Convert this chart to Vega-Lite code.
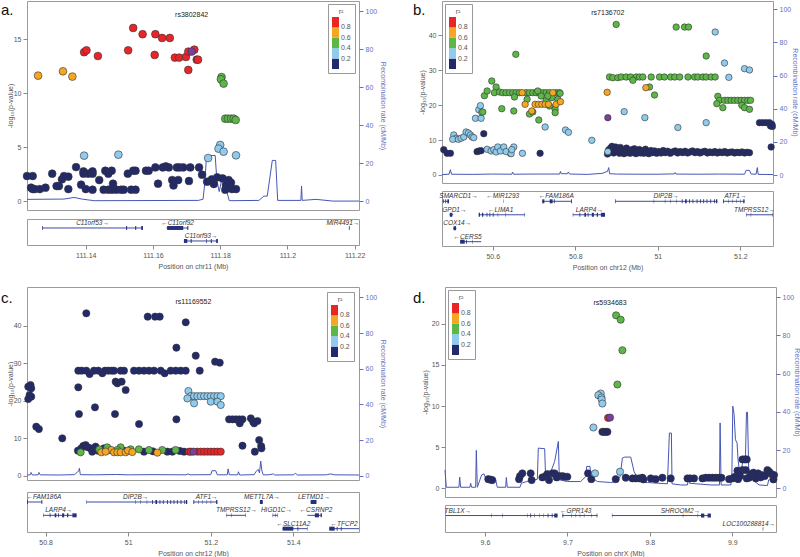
{
"$schema":"https://vega.github.io/schema/vega-lite/v6.json",
"padding":0,
"spacing":15,
"config":{
 "font":"Liberation Sans",
 "view":{"stroke":"#9a9a9a","strokeWidth":1},
 "axis":{"domain":false,"grid":false,"tickColor":"#8a8a8a","tickSize":4,"labelFontSize":7,"labelColor":"#555555","labelPadding":2,"titleFontSize":7,"titleFontWeight":"normal","titleColor":"#555555","labelFlush":false,"labelOverlap":false,"labelBound":false,"titlePadding":4},
 "legend":{"type":"gradient","direction":"vertical","gradientLength":52,"gradientThickness":7,"padding":4,"strokeColor":"#999999","fillColor":"white","labelFontSize":7,"labelColor":"#555555","titleFontSize":7,"titleFontWeight":"normal","titleColor":"#555555","titleAnchor":"middle","titlePadding":2,"offset":3,"labelOverlap":false}
},
"datasets":{
 "sa":[
{"p":111.1225,"y":2.32,"r":0.1},{"p":111.1242,"y":2.32,"r":0.1},{"p":111.1237,"y":1.24,"r":0.1},{"p":111.1242,"y":1.11,"r":0.1},{"p":111.1248,"y":1.11,"r":0.1},{"p":111.1263,"y":1.11,"r":0.1},{"p":111.128,"y":1.24,"r":0.1},{"p":111.13,"y":2.54,"r":0.1},{"p":111.1313,"y":1.39,"r":0.1},{"p":111.132,"y":1.39,"r":0.1},{"p":111.1329,"y":2.01,"r":0.1},{"p":111.1335,"y":2.32,"r":0.1},{"p":111.1348,"y":2.26,"r":0.1},{"p":111.1348,"y":1.11,"r":0.1},{"p":111.1371,"y":3.15,"r":0.1},{"p":111.1386,"y":1.52,"r":0.1},{"p":111.1393,"y":2.75,"r":0.1},{"p":111.1393,"y":2.54,"r":0.1},{"p":111.14,"y":1.11,"r":0.1},{"p":111.1407,"y":2.54,"r":0.1},{"p":111.142,"y":2.54,"r":0.1},{"p":111.142,"y":2.75,"r":0.1},{"p":111.142,"y":1.05,"r":0.1},{"p":111.144,"y":1.95,"r":0.1},{"p":111.1453,"y":1.05,"r":0.1},{"p":111.1458,"y":2.81,"r":0.1},{"p":111.1467,"y":2.54,"r":0.1},{"p":111.1477,"y":2.81,"r":0.1},{"p":111.1467,"y":1.05,"r":0.1},{"p":111.1481,"y":1.61,"r":0.1},{"p":111.1478,"y":1.05,"r":0.1},{"p":111.1491,"y":1.05,"r":0.1},{"p":111.1505,"y":1.05,"r":0.1},{"p":111.1513,"y":1.05,"r":0.1},{"p":111.1525,"y":2.54,"r":0.1},{"p":111.1535,"y":1.05,"r":0.1},{"p":111.1541,"y":2.81,"r":0.1},{"p":111.1548,"y":2.81,"r":0.1},{"p":111.1548,"y":1.05,"r":0.1},{"p":111.1579,"y":2.81,"r":0.1},{"p":111.1587,"y":2.81,"r":0.1},{"p":111.1607,"y":3.12,"r":0.1},{"p":111.1615,"y":1.61,"r":0.1},{"p":111.1629,"y":3.12,"r":0.1},{"p":111.1638,"y":3.22,"r":0.1},{"p":111.1647,"y":3.12,"r":0.1},{"p":111.1657,"y":1.95,"r":0.1},{"p":111.1661,"y":1.45,"r":0.1},{"p":111.1671,"y":3.12,"r":0.1},{"p":111.1675,"y":1.95,"r":0.1},{"p":111.1679,"y":3.12,"r":0.1},{"p":111.169,"y":3.12,"r":0.1},{"p":111.1711,"y":3.12,"r":0.1},{"p":111.1707,"y":1.86,"r":0.1},{"p":111.1737,"y":3.12,"r":0.1},{"p":111.1746,"y":2.44,"r":0.1},{"p":111.1761,"y":1.79,"r":0.1},{"p":111.1775,"y":2.01,"r":0.1},{"p":111.1781,"y":1.58,"r":0.1},{"p":111.1791,"y":2.2,"r":0.1},{"p":111.1807,"y":2.1,"r":0.1},{"p":111.1817,"y":1.48,"r":0.1},{"p":111.1825,"y":1.95,"r":0.1},{"p":111.1832,"y":1.7,"r":0.1},{"p":111.1835,"y":1.11,"r":0.1},{"p":111.1815,"y":1.05,"r":0.1},{"p":111.1847,"y":1.11,"r":0.1},{"p":111.1825,"y":1.48,"r":0.1},
{"p":111.1395,"y":4.21,"r":0.3},{"p":111.1497,"y":4.3,"r":0.3},{"p":111.1764,"y":3.99,"r":0.3},{"p":111.18,"y":5.2,"r":0.3},{"p":111.1795,"y":4.86,"r":0.3},{"p":111.181,"y":4.58,"r":0.3},{"p":111.1847,"y":4.24,"r":0.3},
{"p":111.1804,"y":11.5,"r":0.5},{"p":111.1802,"y":11.29,"r":0.5},{"p":111.181,"y":10.89,"r":0.5},{"p":111.1815,"y":7.64,"r":0.5},{"p":111.1823,"y":7.64,"r":0.5},{"p":111.1832,"y":7.64,"r":0.5},{"p":111.184,"y":7.64,"r":0.5},{"p":111.1846,"y":7.52,"r":0.5},
{"p":111.1258,"y":11.63,"r":0.7},{"p":111.1332,"y":12.03,"r":0.7},{"p":111.136,"y":11.54,"r":0.7},
{"p":111.1395,"y":13.8,"r":0.9},{"p":111.1402,"y":13.98,"r":0.9},{"p":111.1436,"y":13.45,"r":0.9},{"p":111.1526,"y":13.98,"r":0.9},{"p":111.1541,"y":16.05,"r":0.9},{"p":111.1569,"y":15.47,"r":0.9},{"p":111.1607,"y":15.47,"r":0.9},{"p":111.1605,"y":13.55,"r":0.9},{"p":111.1627,"y":15.12,"r":0.9},{"p":111.165,"y":15.12,"r":0.9},{"p":111.1665,"y":13.3,"r":0.9},{"p":111.1678,"y":13.3,"r":0.9},{"p":111.1698,"y":13.36,"r":0.9},{"p":111.1705,"y":13.86,"r":0.9},{"p":111.1705,"y":12.16,"r":0.9},{"p":111.1723,"y":14.04,"r":0.9},{"p":111.173,"y":13.11,"r":0.9},{"p":111.1734,"y":13.11,"r":0.9}
 ],
 "la":[{"p":111.1715,"y":13.86,"id":"rs3802842"}],
 "ra":[{"p":111.1225,"c":0.9},{"p":111.1335,"c":1.05},{"p":111.1365,"c":1.9},{"p":111.139,"c":1.0},{"p":111.1425,"c":0.2},{"p":111.1735,"c":0.35},{"p":111.1749,"c":1.0},{"p":111.1755,"c":11},{"p":111.1759,"c":24},{"p":111.1785,"c":24},{"p":111.179,"c":11},{"p":111.1797,"c":5},{"p":111.1807,"c":13.3},{"p":111.1815,"c":13.3},{"p":111.1821,"c":4},{"p":111.1827,"c":0.2},{"p":111.1915,"c":0.35},{"p":111.193,"c":2.6},{"p":111.194,"c":2.6},{"p":111.1955,"c":21.4},{"p":111.1965,"c":21.4},{"p":111.1971,"c":0.35},{"p":111.204,"c":0.35},{"p":111.2042,"c":7.9},{"p":111.2044,"c":0.35},{"p":111.2085,"c":0.9},{"p":111.2135,"c":0},{"p":111.2213,"c":0}],
 "ga":[{"g":"C11orf53→","s":111.127,"e":111.157,"row":1,"lx":111.142},{"g":"←C11orf92","s":111.164,"e":111.1705,"row":1,"lx":111.1673},{"g":"C11orf93→","s":111.1692,"e":111.1793,"row":2,"lx":111.1743},{"g":"MIR4491→","s":111.2183,"e":111.2185,"row":1,"lx":111.2165}],
 "ea":[{"s":111.127,"e":111.1272,"row":1},{"s":111.152,"e":111.1523,"row":1},{"s":111.1547,"e":111.155,"row":1},{"s":111.1565,"e":111.157,"row":1},{"s":111.1642,"e":111.169,"row":1},{"s":111.1702,"e":111.1705,"row":1},{"s":111.1692,"e":111.1702,"row":2},{"s":111.1712,"e":111.1715,"row":2},{"s":111.1758,"e":111.176,"row":2},{"s":111.1772,"e":111.1775,"row":2},{"s":111.1788,"e":111.1793,"row":2},{"s":111.2183,"e":111.2185,"row":1}],
 "sb":[
{"p":50.4812,"y":7.26,"r":0.1},{"p":50.4893,"y":6.21,"r":0.1},{"p":50.4974,"y":6.21,"r":0.1},{"p":50.562,"y":6.69,"r":0.1},{"p":50.5669,"y":6.88,"r":0.1},{"p":50.5717,"y":6.97,"r":0.1},{"p":50.5782,"y":11.84,"r":0.1},{"p":50.6428,"y":6.21,"r":0.1},{"p":50.7147,"y":6.21,"r":0.1},
{"p":50.878,"y":6.0,"r":0.1},{"p":50.881,"y":7.2,"r":0.1},{"p":50.884,"y":6.5,"r":0.1},{"p":50.886,"y":7.8,"r":0.1},{"p":50.889,"y":8.2,"r":0.1},{"p":50.891,"y":7.0,"r":0.1},{"p":50.893,"y":6.3,"r":0.1},{"p":50.896,"y":7.6,"r":0.1},{"p":50.898,"y":8.0,"r":0.1},{"p":50.901,"y":6.8,"r":0.1},{"p":50.904,"y":7.4,"r":0.1},{"p":50.907,"y":6.2,"r":0.1},{"p":50.909,"y":7.9,"r":0.1},{"p":50.912,"y":6.6,"r":0.1},{"p":50.915,"y":7.3,"r":0.1},{"p":50.918,"y":6.1,"r":0.1},{"p":50.921,"y":7.0,"r":0.1},{"p":50.924,"y":7.7,"r":0.1},{"p":50.927,"y":6.4,"r":0.1},{"p":50.93,"y":6.9,"r":0.1},{"p":50.933,"y":6.2,"r":0.1},{"p":50.936,"y":7.2,"r":0.1},{"p":50.94,"y":6.5,"r":0.1},{"p":50.943,"y":7.5,"r":0.1},{"p":50.947,"y":6.1,"r":0.1},{"p":50.951,"y":6.8,"r":0.1},{"p":50.955,"y":7.3,"r":0.1},{"p":50.958,"y":6.3,"r":0.1},{"p":50.962,"y":6.9,"r":0.1},{"p":50.966,"y":6.2,"r":0.1},{"p":50.97,"y":7.4,"r":0.1},{"p":50.974,"y":6.6,"r":0.1},{"p":50.978,"y":6.1,"r":0.1},{"p":50.983,"y":7.0,"r":0.1},{"p":50.987,"y":6.4,"r":0.1},{"p":50.992,"y":6.9,"r":0.1},{"p":50.997,"y":6.2,"r":0.1},{"p":51.002,"y":6.7,"r":0.1},{"p":51.008,"y":6.3,"r":0.1},{"p":51.013,"y":7.0,"r":0.1},{"p":51.018,"y":6.4,"r":0.1},{"p":51.024,"y":6.8,"r":0.1},{"p":51.03,"y":6.2,"r":0.1},{"p":51.036,"y":6.6,"r":0.1},{"p":51.042,"y":6.9,"r":0.1},{"p":51.048,"y":6.3,"r":0.1},{"p":51.054,"y":6.7,"r":0.1},{"p":51.06,"y":6.4,"r":0.1},{"p":51.066,"y":6.8,"r":0.1},{"p":51.072,"y":6.3,"r":0.1},{"p":51.078,"y":6.6,"r":0.1},{"p":51.084,"y":6.9,"r":0.1},{"p":51.09,"y":6.4,"r":0.1},{"p":51.096,"y":6.7,"r":0.1},{"p":51.102,"y":6.3,"r":0.1},{"p":51.108,"y":6.6,"r":0.1},{"p":51.114,"y":6.8,"r":0.1},{"p":51.12,"y":6.3,"r":0.1},{"p":51.126,"y":6.6,"r":0.1},{"p":51.132,"y":6.4,"r":0.1},{"p":51.138,"y":6.7,"r":0.1},{"p":51.144,"y":6.3,"r":0.1},{"p":51.15,"y":6.6,"r":0.1},{"p":51.156,"y":6.4,"r":0.1},{"p":51.162,"y":6.7,"r":0.1},{"p":51.168,"y":6.3,"r":0.1},{"p":51.174,"y":6.5,"r":0.1},{"p":51.18,"y":6.6,"r":0.1},{"p":51.186,"y":6.3,"r":0.1},{"p":51.192,"y":6.5,"r":0.1},{"p":51.198,"y":6.4,"r":0.1},{"p":51.204,"y":6.6,"r":0.1},{"p":51.21,"y":6.3,"r":0.1},{"p":51.216,"y":6.5,"r":0.1},{"p":51.222,"y":6.4,"r":0.1},
{"p":51.2462,"y":15.0,"r":0.1},{"p":51.2543,"y":15.0,"r":0.1},{"p":51.2624,"y":15.0,"r":0.1},{"p":51.2705,"y":15.0,"r":0.1},{"p":51.2729,"y":14.04,"r":0.1},{"p":51.2745,"y":8.02,"r":0.1},{"p":51.2765,"y":14.5,"r":0.1},{"p":51.2775,"y":13.9,"r":0.1},
{"p":50.5055,"y":11.46,"r":0.3},{"p":50.5111,"y":10.51,"r":0.3},{"p":50.503,"y":10.22,"r":0.3},{"p":50.5168,"y":10.22,"r":0.3},{"p":50.5232,"y":10.51,"r":0.3},{"p":50.5297,"y":10.89,"r":0.3},{"p":50.5354,"y":12.32,"r":0.3},{"p":50.541,"y":12.03,"r":0.3},{"p":50.5459,"y":11.46,"r":0.3},{"p":50.5499,"y":10.89,"r":0.3},{"p":50.5539,"y":10.7,"r":0.3},{"p":50.558,"y":16.24,"r":0.3},{"p":50.5717,"y":16.24,"r":0.3},{"p":50.5661,"y":18.72,"r":0.3},{"p":50.5701,"y":19.87,"r":0.3},{"p":50.5733,"y":17.96,"r":0.3},{"p":50.5863,"y":7.35,"r":0.3},{"p":50.596,"y":6.88,"r":0.3},{"p":50.6024,"y":7.26,"r":0.3},{"p":50.6081,"y":6.59,"r":0.3},{"p":50.6121,"y":8.02,"r":0.3},{"p":50.6186,"y":6.88,"r":0.3},{"p":50.6267,"y":8.02,"r":0.3},{"p":50.6323,"y":6.69,"r":0.3},{"p":50.6444,"y":6.11,"r":0.3},{"p":50.6509,"y":8.02,"r":0.3},{"p":50.6461,"y":7.26,"r":0.3},{"p":50.6719,"y":6.21,"r":0.3},{"p":50.7269,"y":13.75,"r":0.3},{"p":50.7762,"y":12.89,"r":0.3},{"p":50.7834,"y":12.23,"r":0.3},{"p":50.84,"y":9.93,"r":0.3},{"p":50.8788,"y":6.69,"r":0.3},{"p":50.9184,"y":18.15,"r":0.3},{"p":50.9685,"y":16.43,"r":0.3},{"p":51.0485,"y":13.6,"r":0.3},{"p":51.1389,"y":40.97,"r":0.3},{"p":51.1615,"y":32.09,"r":0.3},{"p":51.2099,"y":30.47,"r":0.3},{"p":51.222,"y":30.09,"r":0.3},{"p":51.172,"y":27.98,"r":0.3},{"p":51.1171,"y":15.0,"r":0.3},
{"p":50.6558,"y":34.57,"r":0.5},{"p":50.5798,"y":22.73,"r":0.5},{"p":50.5863,"y":24.07,"r":0.5},{"p":50.5976,"y":26.93,"r":0.5},{"p":50.6081,"y":25.21,"r":0.5},{"p":50.604,"y":23.59,"r":0.5},{"p":50.6162,"y":23.78,"r":0.5},{"p":50.6242,"y":23.59,"r":0.5},{"p":50.6323,"y":23.59,"r":0.5},{"p":50.6404,"y":23.59,"r":0.5},{"p":50.6485,"y":23.59,"r":0.5},{"p":50.6566,"y":23.59,"r":0.5},{"p":50.6646,"y":23.59,"r":0.5},{"p":50.6808,"y":23.59,"r":0.5},{"p":50.6889,"y":23.59,"r":0.5},{"p":50.697,"y":23.59,"r":0.5},{"p":50.7051,"y":23.59,"r":0.5},{"p":50.7131,"y":23.59,"r":0.5},{"p":50.7212,"y":23.59,"r":0.5},{"p":50.7293,"y":23.59,"r":0.5},{"p":50.7374,"y":23.59,"r":0.5},{"p":50.7535,"y":23.59,"r":0.5},{"p":50.7616,"y":23.59,"r":0.5},{"p":50.7091,"y":24.07,"r":0.5},{"p":50.5758,"y":18.05,"r":0.5},{"p":50.6218,"y":19.0,"r":0.5},{"p":50.6509,"y":18.34,"r":0.5},{"p":50.6889,"y":17.48,"r":0.5},{"p":50.697,"y":18.05,"r":0.5},{"p":50.7115,"y":15.76,"r":0.5},{"p":50.6525,"y":22.35,"r":0.5},{"p":50.6832,"y":21.68,"r":0.5},{"p":50.7172,"y":22.64,"r":0.5},{"p":50.7293,"y":21.39,"r":0.5},{"p":50.7374,"y":19.77,"r":0.5},{"p":50.7511,"y":18.82,"r":0.5},{"p":50.7511,"y":17.86,"r":0.5},{"p":50.7576,"y":21.68,"r":0.5},{"p":50.7632,"y":23.4,"r":0.5},{"p":50.743,"y":22.16,"r":0.5},{"p":50.7333,"y":22.64,"r":0.5},
{"p":50.8828,"y":28.08,"r":0.5},{"p":50.8909,"y":27.89,"r":0.5},{"p":50.903,"y":27.89,"r":0.5},{"p":50.9111,"y":28.08,"r":0.5},{"p":50.9232,"y":28.08,"r":0.5},{"p":50.9337,"y":28.08,"r":0.5},{"p":50.9475,"y":28.08,"r":0.5},{"p":50.9556,"y":28.08,"r":0.5},{"p":50.9636,"y":28.08,"r":0.5},{"p":50.9838,"y":28.08,"r":0.5},{"p":51.004,"y":28.08,"r":0.5},{"p":51.016,"y":28.08,"r":0.5},{"p":51.031,"y":28.08,"r":0.5},{"p":51.041,"y":28.08,"r":0.5},{"p":51.053,"y":28.08,"r":0.5},{"p":51.073,"y":28.08,"r":0.5},{"p":51.0888,"y":28.08,"r":0.5},{"p":51.0969,"y":28.08,"r":0.5},{"p":51.1091,"y":28.08,"r":0.5},{"p":51.1171,"y":28.08,"r":0.5},{"p":51.1292,"y":28.08,"r":0.5},{"p":51.1389,"y":28.08,"r":0.5},{"p":50.9394,"y":27.13,"r":0.5},{"p":50.9919,"y":22.92,"r":0.5},{"p":50.9798,"y":25.21,"r":0.5},{"p":50.899,"y":43.15,"r":0.5},{"p":51.0444,"y":42.39,"r":0.5},{"p":51.0646,"y":42.39,"r":0.5},{"p":51.0743,"y":42.39,"r":0.5},{"p":51.1171,"y":34.1,"r":0.5},{"p":51.1454,"y":22.54,"r":0.5},{"p":51.1494,"y":21.39,"r":0.5},{"p":51.1575,"y":19.29,"r":0.5},{"p":51.1615,"y":21.39,"r":0.5},{"p":51.1696,"y":21.39,"r":0.5},{"p":51.1777,"y":21.39,"r":0.5},{"p":51.1858,"y":21.39,"r":0.5},{"p":51.1938,"y":21.39,"r":0.5},{"p":51.2019,"y":21.39,"r":0.5},{"p":51.21,"y":21.39,"r":0.5},{"p":51.2181,"y":21.39,"r":0.5},{"p":51.2245,"y":21.39,"r":0.5},{"p":51.1429,"y":20.44,"r":0.5},{"p":51.2035,"y":19.96,"r":0.5},{"p":51.21,"y":19.29,"r":0.5},{"p":51.222,"y":18.82,"r":0.5},
{"p":50.6711,"y":23.59,"r":0.7},{"p":50.6784,"y":20.25,"r":0.7},{"p":50.6945,"y":18.34,"r":0.7},{"p":50.7026,"y":20.25,"r":0.7},{"p":50.7107,"y":20.25,"r":0.7},{"p":50.7188,"y":20.25,"r":0.7},{"p":50.7269,"y":20.25,"r":0.7},{"p":50.7349,"y":20.25,"r":0.7},{"p":50.7455,"y":23.59,"r":0.7},{"p":50.7535,"y":20.25,"r":0.7},{"p":50.764,"y":21.01,"r":0.7},{"p":50.8772,"y":23.69,"r":0.7},{"p":50.9709,"y":25.02,"r":0.7}
 ],
 "lb":[{"p":50.8788,"y":16.43,"id":"rs7136702"}],
 "rb":[{"p":50.477,"c":0.3},{"p":50.494,"c":0.5},{"p":50.4974,"c":3.2},{"p":50.5,"c":0.5},{"p":50.55,"c":0.4},{"p":50.6,"c":0.6},{"p":50.646,"c":0.5},{"p":50.648,"c":1.8},{"p":50.65,"c":0.5},{"p":50.7,"c":0.6},{"p":50.762,"c":0.6},{"p":50.764,"c":2.2},{"p":50.766,"c":0.8},{"p":50.781,"c":0.8},{"p":50.783,"c":1.8},{"p":50.786,"c":0.6},{"p":50.83,"c":0.4},{"p":50.865,"c":1.0},{"p":50.878,"c":2.2},{"p":50.881,"c":4.5},{"p":50.883,"c":0.8},{"p":50.9,"c":0.6},{"p":50.95,"c":0.5},{"p":51.0,"c":0.5},{"p":51.04,"c":0.7},{"p":51.042,"c":1.5},{"p":51.044,"c":0.6},{"p":51.1,"c":0.5},{"p":51.15,"c":0.6},{"p":51.21,"c":0.5},{"p":51.214,"c":2.8},{"p":51.222,"c":2.8},{"p":51.226,"c":0.6},{"p":51.238,"c":0.5},{"p":51.241,"c":4.5},{"p":51.243,"c":0.4},{"p":51.279,"c":0.3}],
 "gb":[{"g":"SMARCD1→","s":50.479,"e":50.494,"row":1,"lx":50.517},{"g":"←MIR1293","s":50.6255,"e":50.6262,"row":1,"lx":50.624},{"g":"←FAM186A","s":50.719,"e":50.792,"row":1,"lx":50.754},{"g":"DIP2B→","s":50.897,"e":51.144,"row":1,"lx":51.02},{"g":"ATF1→","s":51.158,"e":51.21,"row":1,"lx":51.188},{"g":"GPD1→","s":50.495,"e":50.504,"row":2,"lx":50.507},{"g":"←LIMA1","s":50.566,"e":50.678,"row":2,"lx":50.619},{"g":"LARP4→","s":50.794,"e":50.872,"row":2,"lx":50.834},{"g":"TMPRSS12→","s":51.214,"e":51.279,"row":2,"lx":51.234},{"g":"COX14→","s":50.504,"e":50.512,"row":3,"lx":50.514},{"g":"←CERS5","s":50.521,"e":50.572,"row":4,"lx":50.539}],
 "eb":[{"s":50.479,"e":50.481,"row":1},{"s":50.485,"e":50.487,"row":1},{"s":50.49,"e":50.494,"row":1},{"s":50.6255,"e":50.6262,"row":1},{"s":50.72,"e":50.725,"row":1},{"s":50.738,"e":50.745,"row":1},{"s":50.748,"e":50.75,"row":1},{"s":50.79,"e":50.792,"row":1},{"s":50.897,"e":50.8985,"row":1},{"s":50.99,"e":50.991,"row":1},{"s":51.017,"e":51.018,"row":1},{"s":51.03,"e":51.031,"row":1},{"s":51.045,"e":51.046,"row":1},{"s":51.058,"e":51.06,"row":1},{"s":51.066,"e":51.07,"row":1},{"s":51.076,"e":51.078,"row":1},{"s":51.084,"e":51.086,"row":1},{"s":51.094,"e":51.096,"row":1},{"s":51.102,"e":51.104,"row":1},{"s":51.11,"e":51.112,"row":1},{"s":51.118,"e":51.12,"row":1},{"s":51.127,"e":51.129,"row":1},{"s":51.136,"e":51.138,"row":1},{"s":51.141,"e":51.144,"row":1},{"s":51.158,"e":51.16,"row":1},{"s":51.17,"e":51.171,"row":1},{"s":51.18,"e":51.181,"row":1},{"s":51.19,"e":51.191,"row":1},{"s":51.2,"e":51.201,"row":1},{"s":51.207,"e":51.21,"row":1},{"s":50.496,"e":50.502,"row":2},{"s":50.566,"e":50.569,"row":2},{"s":50.574,"e":50.577,"row":2},{"s":50.585,"e":50.587,"row":2},{"s":50.592,"e":50.594,"row":2},{"s":50.6,"e":50.602,"row":2},{"s":50.612,"e":50.613,"row":2},{"s":50.63,"e":50.631,"row":2},{"s":50.677,"e":50.678,"row":2},{"s":50.794,"e":50.795,"row":2},{"s":50.81,"e":50.812,"row":2},{"s":50.822,"e":50.826,"row":2},{"s":50.83,"e":50.832,"row":2},{"s":50.84,"e":50.845,"row":2},{"s":50.852,"e":50.855,"row":2},{"s":50.862,"e":50.872,"row":2},{"s":51.214,"e":51.215,"row":2},{"s":51.225,"e":51.226,"row":2},{"s":51.278,"e":51.279,"row":2},{"s":50.505,"e":50.511,"row":3},{"s":50.521,"e":50.532,"row":4},{"s":50.535,"e":50.537,"row":4},{"s":50.55,"e":50.551,"row":4}],
 "sc":[
{"p":50.758,"y":23.73,"r":0.1},{"p":50.7636,"y":24.18,"r":0.1},{"p":50.7653,"y":23.29,"r":0.1},{"p":50.7612,"y":21.51,"r":0.1},{"p":50.7653,"y":21.07,"r":0.1},{"p":50.758,"y":20.44,"r":0.1},{"p":50.7774,"y":13.07,"r":0.1},{"p":50.7838,"y":12.44,"r":0.1},{"p":50.8404,"y":9.96,"r":0.1},{"p":50.8792,"y":23.56,"r":0.1},{"p":50.8808,"y":16.44,"r":0.1},{"p":50.8986,"y":43.29,"r":0.1},{"p":50.9196,"y":18.22,"r":0.1},{"p":50.9681,"y":16.44,"r":0.1},{"p":50.9697,"y":25.07,"r":0.1},{"p":50.9737,"y":24.62,"r":0.1},{"p":50.9842,"y":25.07,"r":0.1},{"p":50.9939,"y":22.84,"r":0.1},{"p":51.0263,"y":13.78,"r":0.1},{"p":51.0473,"y":42.4,"r":0.1},{"p":51.0651,"y":42.4,"r":0.1},{"p":51.0764,"y":42.4,"r":0.1},{"p":51.1394,"y":40.89,"r":0.1},{"p":51.1168,"y":34.13,"r":0.1},{"p":51.1636,"y":32.0,"r":0.1},{"p":51.1733,"y":28.0,"r":0.1},{"p":51.2105,"y":30.4,"r":0.1},{"p":51.2218,"y":30.13,"r":0.1},{"p":51.1168,"y":15.02,"r":0.1},
{"p":50.8792,"y":28.0,"r":0.1},{"p":50.8873,"y":28.0,"r":0.1},{"p":50.8986,"y":28.0,"r":0.1},{"p":50.9067,"y":27.1,"r":0.1},{"p":50.9172,"y":28.0,"r":0.1},{"p":50.9277,"y":28.0,"r":0.1},{"p":50.9374,"y":27.3,"r":0.1},{"p":50.9438,"y":28.0,"r":0.1},{"p":50.9519,"y":28.0,"r":0.1},{"p":50.96,"y":28.0,"r":0.1},{"p":50.9657,"y":28.0,"r":0.1},{"p":50.9818,"y":28.0,"r":0.1},{"p":50.9899,"y":28.0,"r":0.1},{"p":51.0141,"y":28.0,"r":0.1},{"p":51.0263,"y":28.0,"r":0.1},{"p":51.0384,"y":28.0,"r":0.1},{"p":51.0505,"y":28.0,"r":0.1},{"p":51.0626,"y":28.0,"r":0.1},{"p":51.0788,"y":28.0,"r":0.1},{"p":51.0885,"y":27.3,"r":0.1},{"p":51.103,"y":28.0,"r":0.1},{"p":51.1152,"y":28.0,"r":0.1},{"p":51.1273,"y":28.0,"r":0.1},{"p":51.1394,"y":28.0,"r":0.1},
{"p":51.2444,"y":15.02,"r":0.1},{"p":51.2525,"y":15.02,"r":0.1},{"p":51.2606,"y":15.02,"r":0.1},{"p":51.2687,"y":15.02,"r":0.1},{"p":51.2768,"y":15.02,"r":0.1},{"p":51.2703,"y":13.96,"r":0.1},{"p":51.2768,"y":8.0,"r":0.1},{"p":51.297,"y":15.29,"r":0.1},{"p":51.3026,"y":14.4,"r":0.1},{"p":51.3131,"y":14.58,"r":0.1},{"p":51.3051,"y":13.96,"r":0.1},{"p":51.3067,"y":6.4,"r":0.1},{"p":51.3172,"y":9.51,"r":0.1},{"p":51.322,"y":7.91,"r":0.1},{"p":51.3228,"y":7.29,"r":0.1},
{"p":50.8783,"y":6.68,"r":0.1},{"p":50.8864,"y":7.29,"r":0.1},{"p":50.8913,"y":7.92,"r":0.1},{"p":50.897,"y":8.18,"r":0.1},{"p":50.9025,"y":7.56,"r":0.1},{"p":50.909,"y":7.29,"r":0.1},{"p":50.9171,"y":7.03,"r":0.1},{"p":50.913,"y":6.41,"r":0.1},{"p":50.9211,"y":7.74,"r":0.1},{"p":50.9268,"y":6.68,"r":0.1},{"p":50.9413,"y":7.29,"r":0.1},{"p":50.9559,"y":6.85,"r":0.1},{"p":50.9898,"y":6.68,"r":0.1},{"p":51.0383,"y":6.41,"r":0.1},{"p":51.0949,"y":6.41,"r":0.1},{"p":51.107,"y":6.41,"r":0.1},{"p":51.1353,"y":6.41,"r":0.1},{"p":51.125,"y":6.6,"r":0.1},{"p":51.06,"y":6.5,"r":0.1},
{"p":51.1459,"y":22.58,"r":0.3},{"p":51.1515,"y":21.2,"r":0.3},{"p":51.1596,"y":21.2,"r":0.3},{"p":51.1677,"y":21.2,"r":0.3},{"p":51.1758,"y":21.2,"r":0.3},{"p":51.1838,"y":21.2,"r":0.3},{"p":51.1919,"y":21.2,"r":0.3},{"p":51.2,"y":21.2,"r":0.3},{"p":51.2081,"y":21.2,"r":0.3},{"p":51.2162,"y":21.2,"r":0.3},{"p":51.2242,"y":21.2,"r":0.3},{"p":51.1434,"y":20.6,"r":0.3},{"p":51.1596,"y":19.29,"r":0.3},{"p":51.2,"y":19.73,"r":0.3},{"p":51.2162,"y":19.73,"r":0.3},{"p":51.2242,"y":18.84,"r":0.3},
{"p":50.8848,"y":6.23,"r":0.5},{"p":50.9494,"y":7.56,"r":0.5},{"p":50.9817,"y":7.56,"r":0.5},{"p":51.0059,"y":7.03,"r":0.5},{"p":51.026,"y":7.03,"r":0.5},{"p":51.0503,"y":6.85,"r":0.5},{"p":51.0826,"y":6.85,"r":0.5},{"p":51.1149,"y":6.85,"r":0.5},{"p":50.9737,"y":6.85,"r":0.5},{"p":50.93,"y":7.0,"r":0.5},
{"p":50.935,"y":6.23,"r":0.7},{"p":50.9592,"y":6.85,"r":0.7},{"p":50.9657,"y":6.23,"r":0.7},{"p":50.9737,"y":6.23,"r":0.7},{"p":50.9818,"y":6.23,"r":0.7},{"p":50.9939,"y":6.23,"r":0.7},{"p":50.9996,"y":6.68,"r":0.7},{"p":51.0707,"y":6.14,"r":0.7},{"p":50.9455,"y":6.41,"r":0.7},{"p":51.01,"y":6.3,"r":0.7},
{"p":51.1474,"y":6.41,"r":0.9},{"p":51.1676,"y":6.41,"r":0.9},{"p":51.1757,"y":6.41,"r":0.9},{"p":51.1838,"y":6.41,"r":0.9},{"p":51.1919,"y":6.41,"r":0.9},{"p":51.2,"y":6.41,"r":0.9},{"p":51.208,"y":6.41,"r":0.9},{"p":51.2161,"y":6.41,"r":0.9},{"p":51.2242,"y":6.41,"r":0.9},{"p":51.152,"y":6.41,"r":0.9}
 ],
 "lc":[{"p":51.158,"y":6.41,"id":"rs11169552"}],
 "rc":[{"p":50.755,"c":0.4},{"p":50.763,"c":0.5},{"p":50.765,"c":1.8},{"p":50.768,"c":0.4},{"p":50.782,"c":0.5},{"p":50.784,"c":1.8},{"p":50.787,"c":0.5},{"p":50.83,"c":0.4},{"p":50.87,"c":0.6},{"p":50.878,"c":2.2},{"p":50.88,"c":2.5},{"p":50.882,"c":4.2},{"p":50.884,"c":0.6},{"p":50.92,"c":0.5},{"p":50.97,"c":0.7},{"p":51.0,"c":0.5},{"p":51.06,"c":0.6},{"p":51.14,"c":0.5},{"p":51.145,"c":1.0},{"p":51.15,"c":0.5},{"p":51.2,"c":0.6},{"p":51.203,"c":2.8},{"p":51.212,"c":2.8},{"p":51.216,"c":0.5},{"p":51.24,"c":0.5},{"p":51.242,"c":3.8},{"p":51.245,"c":0.5},{"p":51.265,"c":0.5},{"p":51.267,"c":2.2},{"p":51.27,"c":0.4},{"p":51.305,"c":0.6},{"p":51.31,"c":2.5},{"p":51.315,"c":3.5},{"p":51.318,"c":1.6},{"p":51.321,"c":8.2},{"p":51.324,"c":2.6},{"p":51.327,"c":0.5},{"p":51.34,"c":0.5},{"p":51.352,"c":1.0},{"p":51.355,"c":0.4},{"p":51.4,"c":0.5},{"p":51.405,"c":1.3},{"p":51.41,"c":0.4},{"p":51.48,"c":0.5},{"p":51.49,"c":1.0},{"p":51.5,"c":0.5},{"p":51.559,"c":0.4}],
 "gc":[{"g":"←FAM186A","s":50.755,"e":50.792,"row":1,"lx":50.796},{"g":"DIP2B→","s":50.899,"e":51.143,"row":1,"lx":51.018},{"g":"ATF1→","s":51.158,"e":51.216,"row":1,"lx":51.19},{"g":"METTL7A→","s":51.319,"e":51.326,"row":1,"lx":51.324},{"g":"LETMD1→","s":51.442,"e":51.456,"row":1,"lx":51.45},{"g":"LARP4→","s":50.794,"e":50.875,"row":2,"lx":50.832},{"g":"TMPRSS12→","s":51.238,"e":51.285,"row":2,"lx":51.262},{"g":"HIGD1C→","s":51.35,"e":51.362,"row":2,"lx":51.359},{"g":"←CSRNP2","s":51.434,"e":51.469,"row":2,"lx":51.455},{"g":"←SLC11A2","s":51.374,"e":51.434,"row":3,"lx":51.4},{"g":"←TFCP2","s":51.487,"e":51.559,"row":3,"lx":51.523}],
 "ec":[{"s":50.755,"e":50.757,"row":1},{"s":50.79,"e":50.792,"row":1},{"s":50.899,"e":50.9,"row":1},{"s":51.017,"e":51.018,"row":1},{"s":51.03,"e":51.031,"row":1},{"s":51.045,"e":51.046,"row":1},{"s":51.058,"e":51.06,"row":1},{"s":51.066,"e":51.07,"row":1},{"s":51.076,"e":51.078,"row":1},{"s":51.084,"e":51.086,"row":1},{"s":51.094,"e":51.096,"row":1},{"s":51.102,"e":51.104,"row":1},{"s":51.11,"e":51.112,"row":1},{"s":51.118,"e":51.12,"row":1},{"s":51.127,"e":51.129,"row":1},{"s":51.136,"e":51.138,"row":1},{"s":51.14,"e":51.143,"row":1},{"s":51.158,"e":51.16,"row":1},{"s":51.17,"e":51.171,"row":1},{"s":51.18,"e":51.181,"row":1},{"s":51.19,"e":51.191,"row":1},{"s":51.2,"e":51.201,"row":1},{"s":51.213,"e":51.216,"row":1},{"s":51.319,"e":51.326,"row":1},{"s":51.442,"e":51.456,"row":1},{"s":50.794,"e":50.795,"row":2},{"s":50.81,"e":50.812,"row":2},{"s":50.822,"e":50.826,"row":2},{"s":50.83,"e":50.832,"row":2},{"s":50.84,"e":50.845,"row":2},{"s":50.852,"e":50.855,"row":2},{"s":50.865,"e":50.875,"row":2},{"s":51.238,"e":51.239,"row":2},{"s":51.25,"e":51.251,"row":2},{"s":51.284,"e":51.285,"row":2},{"s":51.35,"e":51.351,"row":2},{"s":51.357,"e":51.358,"row":2},{"s":51.361,"e":51.362,"row":2},{"s":51.452,"e":51.462,"row":2},{"s":51.466,"e":51.469,"row":2},{"s":51.374,"e":51.4,"row":3},{"s":51.41,"e":51.412,"row":3},{"s":51.433,"e":51.434,"row":3},{"s":51.487,"e":51.5,"row":3},{"s":51.505,"e":51.507,"row":3},{"s":51.515,"e":51.517,"row":3}],
 "sd":[
{"p":9.604,"y":1.12,"r":0.1},{"p":9.6069,"y":1.05,"r":0.1},{"p":9.6089,"y":1.0,"r":0.1},{"p":9.6413,"y":1.12,"r":0.1},{"p":9.6425,"y":1.49,"r":0.1},{"p":9.6453,"y":1.82,"r":0.1},{"p":9.6554,"y":1.82,"r":0.1},{"p":9.6566,"y":1.0,"r":0.1},{"p":9.6696,"y":1.33,"r":0.1},{"p":9.6736,"y":1.49,"r":0.1},{"p":9.6756,"y":1.73,"r":0.1},{"p":9.6777,"y":1.0,"r":0.1},{"p":9.6817,"y":1.82,"r":0.1},{"p":9.6845,"y":1.82,"r":0.1},{"p":9.687,"y":1.33,"r":0.1},{"p":9.6898,"y":1.49,"r":0.1},{"p":9.6939,"y":1.49,"r":0.1},{"p":9.6967,"y":1.41,"r":0.1},{"p":9.6999,"y":1.41,"r":0.1},{"p":9.725,"y":1.82,"r":0.1},{"p":9.729,"y":1.12,"r":0.1},{"p":9.7586,"y":1.12,"r":0.1},{"p":9.7707,"y":1.29,"r":0.1},{"p":9.7788,"y":1.21,"r":0.1},{"p":9.7828,"y":1.21,"r":0.1},{"p":9.7869,"y":1.21,"r":0.1},{"p":9.7909,"y":1.29,"r":0.1},{"p":9.7922,"y":1.09,"r":0.1},{"p":9.8011,"y":1.21,"r":0.1},{"p":9.8071,"y":1.12,"r":0.1},{"p":9.8152,"y":1.29,"r":0.1},{"p":9.8253,"y":1.21,"r":0.1},{"p":9.8456,"y":1.21,"r":0.1},{"p":9.8488,"y":1.21,"r":0.1},{"p":9.8536,"y":1.21,"r":0.1},{"p":9.8638,"y":1.21,"r":0.1},{"p":9.8678,"y":1.29,"r":0.1},{"p":9.8718,"y":1.29,"r":0.1},{"p":9.8759,"y":1.29,"r":0.1},{"p":9.8799,"y":1.29,"r":0.1},{"p":9.884,"y":1.29,"r":0.1},{"p":9.8868,"y":1.29,"r":0.1},{"p":9.8961,"y":1.12,"r":0.1},{"p":9.9002,"y":1.21,"r":0.1},{"p":9.903,"y":1.41,"r":0.1},{"p":9.9062,"y":2.14,"r":0.1},{"p":9.907,"y":1.12,"r":0.1},{"p":9.9095,"y":1.49,"r":0.1},{"p":9.9123,"y":2.22,"r":0.1},{"p":9.9123,"y":3.51,"r":0.1},{"p":9.9151,"y":3.51,"r":0.1},{"p":9.9175,"y":3.51,"r":0.1},{"p":9.9163,"y":2.22,"r":0.1},{"p":9.9175,"y":1.21,"r":0.1},{"p":9.9204,"y":1.29,"r":0.1},{"p":9.9224,"y":1.73,"r":0.1},{"p":9.9256,"y":1.9,"r":0.1},{"p":9.9285,"y":1.21,"r":0.1},{"p":9.9313,"y":1.82,"r":0.1},{"p":9.9345,"y":1.33,"r":0.1},{"p":9.9366,"y":1.61,"r":0.1},{"p":9.9394,"y":1.49,"r":0.1},{"p":9.9426,"y":2.22,"r":0.1},{"p":9.9447,"y":2.02,"r":0.1},{"p":9.9475,"y":1.73,"r":0.1},{"p":9.9499,"y":1.09,"r":0.1},{"p":9.9507,"y":1.61,"r":0.1},
{"p":9.7424,"y":6.86,"r":0.1},{"p":9.7444,"y":6.86,"r":0.1},{"p":9.7464,"y":6.86,"r":0.1},{"p":9.7485,"y":6.86,"r":0.1},
{"p":9.7335,"y":1.82,"r":0.3},{"p":9.7638,"y":2.02,"r":0.3},{"p":9.7315,"y":7.39,"r":0.3},{"p":9.7404,"y":11.52,"r":0.3},{"p":9.7375,"y":11.31,"r":0.3},{"p":9.7412,"y":11.03,"r":0.3},{"p":9.7416,"y":10.79,"r":0.3},{"p":9.7424,"y":10.3,"r":0.3},
{"p":9.759,"y":21.01,"r":0.5},{"p":9.7646,"y":20.48,"r":0.5},{"p":9.7667,"y":16.77,"r":0.5},{"p":9.7606,"y":12.61,"r":0.5},
{"p":9.7493,"y":8.56,"r":0.9}
 ],
 "ld":[{"p":9.7517,"y":8.6,"id":"rs5934683"}],
 "rd":[{"p":9.5515,"c":9.6},{"p":9.5531,"c":0.5},{"p":9.5684,"c":0.5},{"p":9.5693,"c":5.8},{"p":9.5705,"c":0.5},{"p":9.5818,"c":0.5},{"p":9.5826,"c":2.6},{"p":9.5838,"c":0.5},{"p":9.5887,"c":0.5},{"p":9.5895,"c":19.8},{"p":9.5907,"c":0.5},{"p":9.596,"c":7.0},{"p":9.5988,"c":7.5},{"p":9.6008,"c":5.2},{"p":9.6129,"c":4.4},{"p":9.615,"c":0.5},{"p":9.6251,"c":0.5},{"p":9.6259,"c":5.6},{"p":9.6271,"c":0.5},{"p":9.6425,"c":0.5},{"p":9.6441,"c":2.6},{"p":9.6506,"c":3.5},{"p":9.6635,"c":4.7},{"p":9.6647,"c":21.0},{"p":9.6724,"c":20.7},{"p":9.6736,"c":4.4},{"p":9.6777,"c":6.1},{"p":9.6845,"c":14.0},{"p":9.689,"c":24.5},{"p":9.6902,"c":4.4},{"p":9.6999,"c":3.5},{"p":9.7161,"c":3.5},{"p":9.7222,"c":6.1},{"p":9.7234,"c":11.4},{"p":9.7274,"c":11.4},{"p":9.7282,"c":5.8},{"p":9.7363,"c":3.5},{"p":9.7525,"c":3.0},{"p":9.7586,"c":3.5},{"p":9.7638,"c":5.8},{"p":9.7667,"c":15.8},{"p":9.7695,"c":16.3},{"p":9.7768,"c":16.3},{"p":9.7808,"c":8.8},{"p":9.7869,"c":3.5},{"p":9.797,"c":3.0},{"p":9.8213,"c":2.3},{"p":9.8237,"c":28.9},{"p":9.8261,"c":28.9},{"p":9.8269,"c":2.3},{"p":9.8375,"c":1.7},{"p":9.8456,"c":1.7},{"p":9.8468,"c":5.2},{"p":9.8481,"c":2.6},{"p":9.8739,"c":1.7},{"p":9.8844,"c":1.7},{"p":9.8852,"c":34.2},{"p":9.8864,"c":1.7},{"p":9.8981,"c":1.7},{"p":9.8994,"c":4.4},{"p":9.9006,"c":43.0},{"p":9.9022,"c":38.6},{"p":9.9038,"c":25.4},{"p":9.9058,"c":23.7},{"p":9.907,"c":14.9},{"p":9.9095,"c":6.1},{"p":9.9135,"c":15.8},{"p":9.9159,"c":14.9},{"p":9.9172,"c":39.8},{"p":9.9184,"c":39.8},{"p":9.92,"c":7.9},{"p":9.9224,"c":5.2},{"p":9.9325,"c":1.7},{"p":9.9426,"c":1.4},{"p":9.9442,"c":4.4},{"p":9.953,"c":4.4}],
 "gd":[{"g":"TBL1X→","s":9.5523,"e":9.6878,"row":1,"lx":9.567},{"g":"←GPR143","s":9.6939,"e":9.7363,"row":1,"lx":9.71},{"g":"SHROOM2→","s":9.754,"e":9.874,"row":1,"lx":9.837},{"g":"LOC100288814→","s":9.937,"e":9.9375,"row":2,"lx":9.92}],
 "ed":[{"s":9.608,"e":9.6085,"row":1},{"s":9.621,"e":9.6215,"row":1},{"s":9.651,"e":9.6515,"row":1},{"s":9.655,"e":9.656,"row":1},{"s":9.66,"e":9.6605,"row":1},{"s":9.666,"e":9.6665,"row":1},{"s":9.671,"e":9.6715,"row":1},{"s":9.676,"e":9.677,"row":1},{"s":9.681,"e":9.682,"row":1},{"s":9.684,"e":9.688,"row":1},{"s":9.694,"e":9.695,"row":1},{"s":9.705,"e":9.7055,"row":1},{"s":9.71,"e":9.7105,"row":1},{"s":9.715,"e":9.7155,"row":1},{"s":9.72,"e":9.7205,"row":1},{"s":9.729,"e":9.7295,"row":1},{"s":9.7355,"e":9.7363,"row":1},{"s":9.754,"e":9.7545,"row":1},{"s":9.84,"e":9.8405,"row":1},{"s":9.858,"e":9.8585,"row":1},{"s":9.862,"e":9.866,"row":1},{"s":9.87,"e":9.874,"row":1},{"s":9.937,"e":9.9375,"row":2}]
},
"vconcat":[
{"hconcat":[
 {"vconcat":[
  {"width":332,"height":209,
   "layer":[
    {"data":{"name":"ra"},"mark":{"type":"line","color":"#4756b5","strokeWidth":1},
     "encoding":{"x":{"field":"p","type":"quantitative","scale":{"domain":[111.1225,111.2213],"nice":false,"zero":false},"axis":null},
      "y":{"field":"c","type":"quantitative","scale":{"domain":[-4.7,105.3],"nice":false,"zero":false},"axis":{"orient":"right","values":[0,20,40,60,80,100],"title":"Recombination rate (cM/Mb)","labelColor":"#6471c2","tickColor":"#6471c2","titleColor":"#6471c2","titlePadding":3}}}},
    {"layer":[
     {"data":{"name":"sa"},"mark":{"type":"circle","size":60,"stroke":"#333333","strokeWidth":0.6,"opacity":1},
      "encoding":{"x":{"field":"p","type":"quantitative","scale":{"domain":[111.1225,111.2213],"nice":false,"zero":false},"axis":null},
       "y":{"field":"y","type":"quantitative","scale":{"domain":[-0.83,18.55],"nice":false,"zero":false},"axis":{"orient":"left","values":[0,5,10,15],"title":"-log₁₀(p-value)","titlePadding":0}},
       "color":{"field":"r","type":"quantitative","scale":{"type":"threshold","domain":[0.2,0.4,0.6,0.8],"range":["#232a6c","#8ecbee","#5db748","#f5a623","#e8262a"]},"legend":{"title":"r²","orient":"none","legendX":301,"legendY":3}}}},
     {"data":{"name":"la"},"mark":{"type":"circle","size":60,"fill":"#7a3f9c","stroke":"#333333","strokeWidth":0.6,"opacity":1},
      "encoding":{"x":{"field":"p","type":"quantitative"},"y":{"field":"y","type":"quantitative"}}},
     {"data":{"name":"la"},"mark":{"type":"text","fontSize":7,"color":"#222222"},
      "encoding":{"x":{"field":"p","type":"quantitative"},"y":{"datum":17.25},"text":{"field":"id"}}},
     {"data":{"values":[{"t":"a."}]},"mark":{"type":"text","fontSize":15,"color":"#111111","align":"left","baseline":"middle","dx":-26},
      "encoding":{"x":{"datum":111.1225},"y":{"datum":17.7},"text":{"field":"t"}}}
    ]}
   ],
   "resolve":{"scale":{"y":"independent"}}
  },
  {"width":332,"height":26,
   "layer":[
    {"data":{"name":"ga"},"mark":{"type":"rule","color":"#3c4aa0","strokeWidth":1},
     "encoding":{"x":{"field":"s","type":"quantitative","scale":{"domain":[111.1225,111.2213],"nice":false,"zero":false},"axis":{"values":[111.14,111.16,111.18,111.2,111.22],"format":"~f","title":"Position on chr11 (Mb)"}},"x2":{"field":"e"},
      "y":{"field":"row","type":"quantitative","scale":{"domain":[0.31,2.31],"reverse":true,"nice":false,"zero":false},"axis":null}}},
    {"data":{"name":"ea"},"mark":{"type":"rule","color":"#27307a","strokeWidth":4},
     "encoding":{"x":{"field":"s","type":"quantitative"},"x2":{"field":"e"},"y":{"field":"row","type":"quantitative"}}},
    {"data":{"name":"ga"},"mark":{"type":"text","fontSize":6.5,"fontStyle":"italic","color":"#333333","baseline":"bottom","dy":-2},
     "encoding":{"x":{"field":"lx","type":"quantitative"},"y":{"field":"row","type":"quantitative"},"text":{"field":"g"}}}
   ]}
 ],"spacing":7},
 {"vconcat":[
  {"width":331,"height":182,
   "layer":[
    {"data":{"name":"rb"},"mark":{"type":"line","color":"#4756b5","strokeWidth":1},
     "encoding":{"x":{"field":"p","type":"quantitative","scale":{"domain":[50.477,51.279],"nice":false,"zero":false},"axis":null},
      "y":{"field":"c","type":"quantitative","scale":{"domain":[-4.8,105.0],"nice":false,"zero":false},"axis":{"orient":"right","values":[0,20,40,60,80,100],"title":"Recombination rate (cM/Mb)","labelColor":"#6471c2","tickColor":"#6471c2","titleColor":"#6471c2","titlePadding":1}}}},
    {"layer":[
     {"data":{"name":"sb"},"mark":{"type":"circle","size":42,"stroke":"#333333","strokeWidth":0.6,"opacity":1},
      "encoding":{"x":{"field":"p","type":"quantitative","scale":{"domain":[50.477,51.279],"nice":false,"zero":false},"axis":null},
       "y":{"field":"y","type":"quantitative","scale":{"domain":[-2.3,49.86],"nice":false,"zero":false},"axis":{"orient":"left","values":[0,10,20,30,40],"title":"-log₁₀(p-value)","titlePadding":3}},
       "color":{"field":"r","type":"quantitative","scale":{"type":"threshold","domain":[0.2,0.4,0.6,0.8],"range":["#232a6c","#8ecbee","#5db748","#f5a623","#e8262a"]},"legend":{"title":"r²","orient":"top-left"}}}},
     {"data":{"name":"lb"},"mark":{"type":"circle","size":42,"fill":"#7a3f9c","stroke":"#333333","strokeWidth":0.6,"opacity":1},
      "encoding":{"x":{"field":"p","type":"quantitative"},"y":{"field":"y","type":"quantitative"}}},
     {"data":{"name":"lb"},"mark":{"type":"text","fontSize":7,"color":"#222222"},
      "encoding":{"x":{"field":"p","type":"quantitative"},"y":{"datum":46.4},"text":{"field":"id"}}},
     {"data":{"values":[{"t":"b."}]},"mark":{"type":"text","fontSize":15,"color":"#111111","align":"left","baseline":"middle","dx":-29},
      "encoding":{"x":{"datum":50.477},"y":{"datum":47.3},"text":{"field":"t"}}}
    ]}
   ],
   "resolve":{"scale":{"y":"independent"}}
  },
  {"width":331,"height":55,
   "layer":[
    {"data":{"name":"gb"},"mark":{"type":"rule","color":"#3c4aa0","strokeWidth":1},
     "encoding":{"x":{"field":"s","type":"quantitative","scale":{"domain":[50.477,51.279],"nice":false,"zero":false},"axis":{"values":[50.6,50.8,51,51.2],"format":"~f","title":"Position on chr12 (Mb)"}},"x2":{"field":"e"},
      "y":{"field":"row","type":"quantitative","scale":{"domain":[0.234,4.32],"reverse":true,"nice":false,"zero":false},"axis":null}}},
    {"data":{"name":"eb"},"mark":{"type":"rule","color":"#27307a","strokeWidth":4},
     "encoding":{"x":{"field":"s","type":"quantitative"},"x2":{"field":"e"},"y":{"field":"row","type":"quantitative"}}},
    {"data":{"name":"gb"},"mark":{"type":"text","fontSize":6.5,"fontStyle":"italic","color":"#333333","baseline":"bottom","dy":-2},
     "encoding":{"x":{"field":"lx","type":"quantitative"},"y":{"field":"row","type":"quantitative"},"text":{"field":"g"}}}
   ]}
 ],"spacing":6}
],"spacing":24},
{"hconcat":[
 {"vconcat":[
  {"width":332,"height":193,
   "layer":[
    {"data":{"name":"rc"},"mark":{"type":"line","color":"#4756b5","strokeWidth":1},
     "encoding":{"x":{"field":"p","type":"quantitative","scale":{"domain":[50.755,51.559],"nice":false,"zero":false},"axis":null},
      "y":{"field":"c","type":"quantitative","scale":{"domain":[-2.4,105.8],"nice":false,"zero":false},"axis":{"orient":"right","values":[0,20,40,60,80,100],"title":"Recombination rate (cM/Mb)","labelColor":"#6471c2","tickColor":"#6471c2","titleColor":"#6471c2","titlePadding":3}}}},
    {"layer":[
     {"data":{"name":"sc"},"mark":{"type":"circle","size":52,"stroke":"#333333","strokeWidth":0.6,"opacity":1},
      "encoding":{"x":{"field":"p","type":"quantitative","scale":{"domain":[50.755,51.559],"nice":false,"zero":false},"axis":null},
       "y":{"field":"y","type":"quantitative","scale":{"domain":[-1.15,50.3],"nice":false,"zero":false},"axis":{"orient":"left","values":[0,10,20,30,40],"title":"-log₁₀(p-value)","titlePadding":0}},
       "color":{"field":"r","type":"quantitative","scale":{"type":"threshold","domain":[0.2,0.4,0.6,0.8],"range":["#232a6c","#8ecbee","#5db748","#f5a623","#e8262a"]},"legend":{"title":"r²","orient":"none","legendX":300,"legendY":5}}}},
     {"data":{"name":"lc"},"mark":{"type":"circle","size":52,"fill":"#7a3f9c","stroke":"#333333","strokeWidth":0.6,"opacity":1},
      "encoding":{"x":{"field":"p","type":"quantitative"},"y":{"field":"y","type":"quantitative"}}},
     {"data":{"name":"lc"},"mark":{"type":"text","fontSize":7,"color":"#222222"},
      "encoding":{"x":{"field":"p","type":"quantitative"},"y":{"datum":46.4},"text":{"field":"id"}}},
     {"data":{"values":[{"t":"c."}]},"mark":{"type":"text","fontSize":15,"color":"#111111","align":"left","baseline":"middle","dx":-26},
      "encoding":{"x":{"datum":50.755},"y":{"datum":47.5},"text":{"field":"t"}}}
    ]}
   ],
   "resolve":{"scale":{"y":"independent"}}
  },
  {"width":332,"height":40,
   "layer":[
    {"data":{"name":"gc"},"mark":{"type":"rule","color":"#3c4aa0","strokeWidth":1},
     "encoding":{"x":{"field":"s","type":"quantitative","scale":{"domain":[50.755,51.559],"nice":false,"zero":false},"axis":{"values":[50.8,51,51.2,51.4],"format":"~f","title":"Position on chr12 (Mb)"}},"x2":{"field":"e"},
      "y":{"field":"row","type":"quantitative","scale":{"domain":[0.25,3.25],"reverse":true,"nice":false,"zero":false},"axis":null}}},
    {"data":{"name":"ec"},"mark":{"type":"rule","color":"#27307a","strokeWidth":4},
     "encoding":{"x":{"field":"s","type":"quantitative"},"x2":{"field":"e"},"y":{"field":"row","type":"quantitative"}}},
    {"data":{"name":"gc"},"mark":{"type":"text","fontSize":6.5,"fontStyle":"italic","color":"#333333","baseline":"bottom","dy":-2},
     "encoding":{"x":{"field":"lx","type":"quantitative"},"y":{"field":"row","type":"quantitative"},"text":{"field":"g"}}}
   ]}
 ],"spacing":10},
 {"vconcat":[
  {"width":331,"height":210,
   "layer":[
    {"data":{"name":"rd"},"mark":{"type":"line","color":"#4756b5","strokeWidth":1},
     "encoding":{"x":{"field":"p","type":"quantitative","scale":{"domain":[9.5515,9.953],"nice":false,"zero":false},"axis":null},
      "y":{"field":"c","type":"quantitative","scale":{"domain":[-4.6,105.4],"nice":false,"zero":false},"axis":{"orient":"right","values":[0,20,40,60,80,100],"title":"Recombination rate (cM/Mb)","labelColor":"#6471c2","tickColor":"#6471c2","titleColor":"#6471c2","titlePadding":0}}}},
    {"layer":[
     {"data":{"name":"sd"},"mark":{"type":"circle","size":52,"stroke":"#333333","strokeWidth":0.6,"opacity":1},
      "encoding":{"x":{"field":"p","type":"quantitative","scale":{"domain":[9.5515,9.953],"nice":false,"zero":false},"axis":null},
       "y":{"field":"y","type":"quantitative","scale":{"domain":[-1.05,24.45],"nice":false,"zero":false},"axis":{"orient":"left","values":[0,5,10,15,20],"title":"-log₁₀(p-value)","titlePadding":3}},
       "color":{"field":"r","type":"quantitative","scale":{"type":"threshold","domain":[0.2,0.4,0.6,0.8],"range":["#232a6c","#8ecbee","#5db748","#f5a623","#e8262a"]},"legend":{"title":"r²","orient":"top-left"}}}},
     {"data":{"name":"ld"},"mark":{"type":"circle","size":52,"fill":"#7a3f9c","stroke":"#333333","strokeWidth":0.6,"opacity":1},
      "encoding":{"x":{"field":"p","type":"quantitative"},"y":{"field":"y","type":"quantitative"}}},
     {"data":{"name":"ld"},"mark":{"type":"text","fontSize":7,"color":"#222222"},
      "encoding":{"x":{"field":"p","type":"quantitative"},"y":{"datum":22.5},"text":{"field":"id"}}},
     {"data":{"values":[{"t":"d."}]},"mark":{"type":"text","fontSize":15,"color":"#111111","align":"left","baseline":"middle","dx":-32},
      "encoding":{"x":{"datum":9.5515},"y":{"datum":23.07},"text":{"field":"t"}}}
    ]}
   ],
   "resolve":{"scale":{"y":"independent"}}
  },
  {"width":331,"height":27,
   "layer":[
    {"data":{"name":"gd"},"mark":{"type":"rule","color":"#3c4aa0","strokeWidth":1},
     "encoding":{"x":{"field":"s","type":"quantitative","scale":{"domain":[9.5515,9.953],"nice":false,"zero":false},"axis":{"values":[9.6,9.7,9.8,9.9],"format":"~f","title":"Position on chrX (Mb)"}},"x2":{"field":"e"},
      "y":{"field":"row","type":"quantitative","scale":{"domain":[0.2,2.25],"reverse":true,"nice":false,"zero":false},"axis":null}}},
    {"data":{"name":"ed"},"mark":{"type":"rule","color":"#27307a","strokeWidth":4},
     "encoding":{"x":{"field":"s","type":"quantitative"},"x2":{"field":"e"},"y":{"field":"row","type":"quantitative"}}},
    {"data":{"name":"gd"},"mark":{"type":"text","fontSize":6.5,"fontStyle":"italic","color":"#333333","baseline":"bottom","dy":-2},
     "encoding":{"x":{"field":"lx","type":"quantitative"},"y":{"field":"row","type":"quantitative"},"text":{"field":"g"}}}
   ]}
 ],"spacing":6}
],"spacing":24}
]
}
